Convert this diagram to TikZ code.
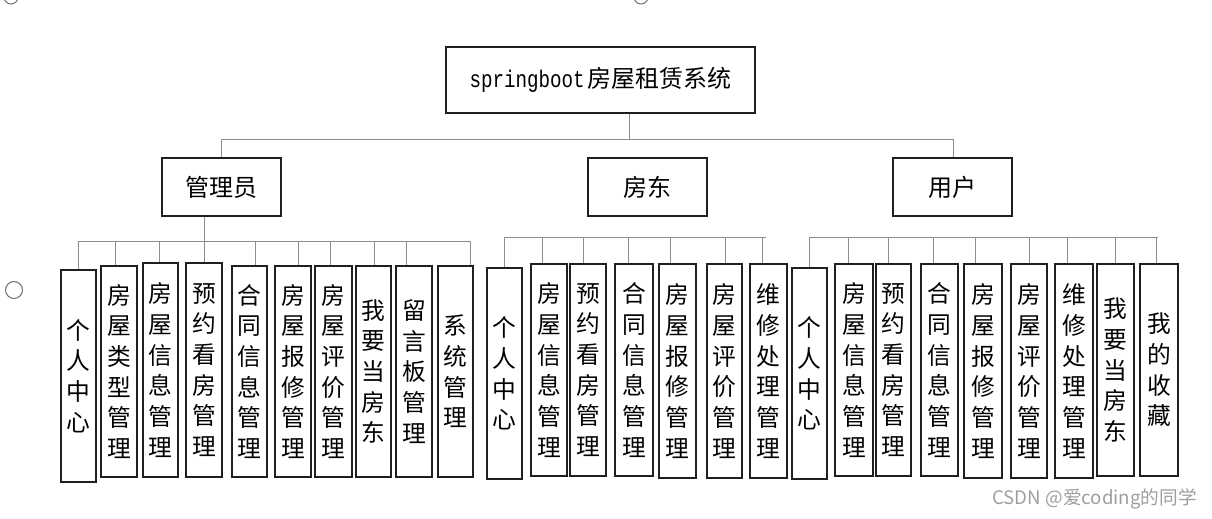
\documentclass[tikz,border=0pt]{standalone}
\usepackage{fontspec}
\setmainfont{Noto Sans CJK SC}
\newfontfamily\monofnt[FakeStretch=0.8]{Liberation Mono}
\newcommand\mkleaf[6]{%
  \node[box, leaftext, minimum width={(#3-#2)*0.75pt}, minimum height={(#5-#4)*0.75pt}]
    (#1) at ({(#2+#3)/2},{(#4+#5)/2}) {#6};}
\begin{document}
\begin{tikzpicture}[x=0.75pt,y=-0.75pt,
  box/.style={draw=black!88, line width=1.3pt, inner sep=0pt, align=center},
  conn/.style={draw=black!45, line width=0.7pt},
  leaftext/.style={font=\fontsize{17.8}{23}\selectfont},
  midtext/.style={font=\fontsize{18}{22}\selectfont},
  dot/.style={draw=black!55, line width=0.8pt}]
\useasboundingbox (0,0) rectangle (1212,518);

% decorative circles
\draw[dot] (11,-3) circle[radius=7];
\draw[dot] (641,-3) circle[radius=7];
\draw[dot] (14,290) circle[radius=8.5];

% root
\node[box, font=\fontsize{18}{22}\selectfont, minimum width={309*0.75pt}, minimum height={66*0.75pt}]
  (root) at (600.5,80) {{\monofnt\fontsize{18}{22}\selectfont springboot}\hspace{2pt}房屋租赁系统};

% level 2
\node[box, midtext, minimum width={119*0.75pt}, minimum height={58*0.75pt}] (admin) at (221.5,187) {管理员};
\node[box, midtext, minimum width={119*0.75pt}, minimum height={58*0.75pt}] (owner) at (647.5,187) {房东};
\node[box, midtext, minimum width={119*0.75pt}, minimum height={58*0.75pt}] (user) at (952.5,187) {用户};

% level 1 connectors
\coordinate (r1) at (629,139);
\coordinate (bl) at (221,139);
\coordinate (br) at (953,139);
\draw[conn] (root.south -| r1) -- (r1);
\draw[conn] (bl) -- (br);
\draw[conn] (bl) -- (bl |- admin.north);
\draw[conn] (br) -- (br |- user.north);

% admin leaves
\mkleaf{a1}{61}{96}{270}{482}{个\\人\\中\\心}
\mkleaf{a2}{101}{137}{266}{477}{房\\屋\\类\\型\\管\\理}
\mkleaf{a3}{143}{178}{263}{477}{房\\屋\\信\\息\\管\\理}
\mkleaf{a4}{186}{222}{263}{477}{预\\约\\看\\房\\管\\理}
\mkleaf{a5}{232}{267}{266}{477}{合\\同\\信\\息\\管\\理}
\mkleaf{a6}{275}{311}{266}{477}{房\\屋\\报\\修\\管\\理}
\mkleaf{a7}{315}{352}{266}{477}{房\\屋\\评\\价\\管\\理}
\mkleaf{a8}{356}{391}{266}{477}{我\\要\\当\\房\\东}
\mkleaf{a9}{396}{432}{266}{477}{留\\言\\板\\管\\理}
\mkleaf{a10}{438}{473}{266}{477}{系\\统\\管\\理}

% owner leaves
\mkleaf{b1}{487}{522}{268}{479}{个\\人\\中\\心}
\mkleaf{b2}{531}{567}{264}{476}{房\\屋\\信\\息\\管\\理}
\mkleaf{b3}{570}{606}{264}{476}{预\\约\\看\\房\\管\\理}
\mkleaf{b4}{615}{653}{264}{476}{合\\同\\信\\息\\管\\理}
\mkleaf{b5}{659}{696}{264}{478}{房\\屋\\报\\修\\管\\理}
\mkleaf{b6}{707}{742}{264}{478}{房\\屋\\评\\价\\管\\理}
\mkleaf{b7}{750}{787}{264}{478}{维\\修\\处\\理\\管\\理}

% user leaves
\mkleaf{c1}{792}{827}{268}{479}{个\\人\\中\\心}
\mkleaf{c2}{835}{873}{264}{476}{房\\屋\\信\\息\\管\\理}
\mkleaf{c3}{876}{911}{264}{476}{预\\约\\看\\房\\管\\理}
\mkleaf{c4}{921}{958}{264}{476}{合\\同\\信\\息\\管\\理}
\mkleaf{c5}{964}{1002}{264}{478}{房\\屋\\报\\修\\管\\理}
\mkleaf{c6}{1011}{1047}{264}{478}{房\\屋\\评\\价\\管\\理}
\mkleaf{c7}{1055}{1093}{264}{478}{维\\修\\处\\理\\管\\理}
\mkleaf{c8}{1097}{1134}{264}{476}{我\\要\\当\\房\\东}
\mkleaf{c9}{1140}{1178}{264}{476}{我\\的\\收\\藏}

% admin bus
\coordinate (ad) at (204,241);
\draw[conn] (admin.south -| ad) -- (ad);
\draw[conn] (78,241) -- (470,241);
\foreach \n/\x in {a1/78,a2/115.7,a3/159,a4/204,a5/255,a6/298,a7/330,a8/374,a9/406.7,a10/470}
  \draw[conn] (\x,241) -- (\n.north -| \x,241);

% owner bus
\draw[conn] (504,237) -- (766,237);
\foreach \n/\x in {b1/504,b2/542,b3/583,b4/628,b5/670.7,b6/725,b7/762.7}
  \draw[conn] (\x,237) -- (\n.north -| \x,237);

% user bus
\draw[conn] (809,237) -- (1157.7,237);
\foreach \n/\x in {c1/809,c2/848,c3/888,c4/933,c5/975.7,c6/1029,c7/1067,c8/1115,c9/1156.7}
  \draw[conn] (\x,237) -- (\n.north -| \x,237);

% watermark
\node[text=black!38, font=\fontsize{14}{16}\selectfont, anchor=east, inner sep=0pt] (wm) at (1197,499) {CSDN @爱coding的同学};
\end{tikzpicture}
\end{document}
